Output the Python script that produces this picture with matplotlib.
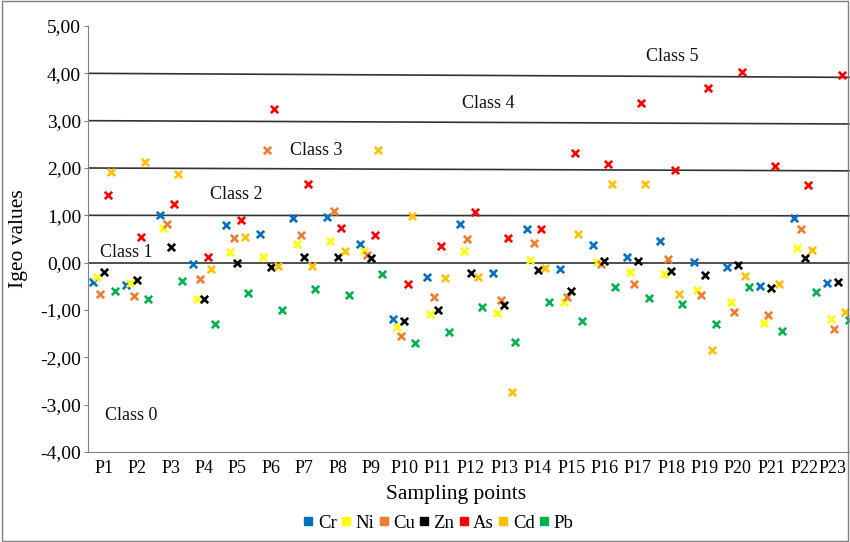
import matplotlib
matplotlib.use("Agg")
import matplotlib.pyplot as plt
import matplotlib.transforms as mtransforms
import numpy as np
from matplotlib.ticker import FuncFormatter, MultipleLocator
from matplotlib.lines import Line2D
from matplotlib.patches import Rectangle

plt.rcParams['font.family'] = ['Liberation Serif', 'DejaVu Serif']

points = [f"P{i}" for i in range(1, 24)]
series_names = ["Cr", "Ni", "Cu", "Zn", "As", "Cd", "Pb"]
series_colors = ["#0070C0", "#FFFF00", "#ED7D31", "#000000", "#FF0000", "#FFC000", "#00B050"]

Cr = [-0.40, -0.48, 1.01, -0.02, 0.80, 0.60, 0.95, 0.96, 0.39, -1.20, -0.30, 0.81,
      -0.21, 0.72, -0.14, 0.37, 0.12, 0.46, 0.01, -0.09, -0.49, 0.94, -0.44]
Ni = [-0.30, -0.43, 0.74, -0.76, 0.22, 0.12, 0.40, 0.46, 0.25, -1.35, -1.09, 0.25,
      -1.06, 0.05, -0.83, 0.01, -0.20, -0.23, -0.58, -0.84, -1.27, 0.32, -1.19]
Cu = [-0.66, -0.71, 0.82, -0.34, 0.52, 2.37, 0.58, 1.10, 0.17, -1.54, -0.73, 0.51,
      -0.79, 0.42, -0.72, -0.03, -0.45, 0.08, -0.68, -1.04, -1.11, 0.72, -1.41]
Zn = [-0.19, -0.36, 0.34, -0.77, -0.01, -0.10, 0.12, 0.11, 0.09, -1.24, -1.01, -0.21,
      -0.90, -0.15, -0.59, 0.04, 0.03, -0.17, -0.27, -0.05, -0.53, 0.10, -0.40]
As = [1.42, 0.54, 1.25, 0.11, 0.90, 3.25, 1.66, 0.74, 0.59, -0.45, 0.35, 1.07,
      0.53, 0.71, 2.32, 2.08, 3.37, 1.96, 3.68, 4.03, 2.04, 1.65, 3.97]
Cd = [1.91, 2.13, 1.87, -0.14, 0.54, -0.07, -0.07, 0.25, 2.38, 0.99, -0.33, -0.30,
      -2.73, -0.11, 0.60, 1.66, 1.66, -0.67, -1.84, -0.28, -0.46, 0.27, -1.04]
Pb = [-0.59, -0.77, -0.38, -1.29, -0.65, -1.00, -0.55, -0.69, -0.23, -1.70, -1.47, -0.94,
      -1.67, -0.83, -1.23, -0.52, -0.74, -0.87, -1.29, -0.52, -1.45, -0.63, -1.21]
series_values = [Cr, Ni, Cu, Zn, As, Cd, Pb]

class_labels = ["Class 0", "Class 1", "Class 2", "Class 3", "Class 4", "Class 5"]
class_label_pos = [(0.03, -3.22), (-0.12, 0.22), (3.18, 1.43), (5.57, 2.36), (10.73, 3.37), (16.24, 4.35)]
class_levels = [0, 1, 2, 3, 4]
class_levels_end = [0.0, 0.99, 1.94, 2.93, 3.915]

fig = plt.figure(figsize=(8.5, 5.42), dpi=100)
ax = fig.add_axes([88 / 850, 1 - 452 / 542, 1 - 88 / 850, (452 - 26) / 542])

xmin, xmax = -0.48, 22.36
x = np.arange(len(points))
step = 0.11
for k, (name, vals, col) in enumerate(zip(series_names, series_values, series_colors)):
    ax.scatter(x + (k - 3) * step, vals, marker='x', s=28, linewidths=1.9,
               color=col, zorder=3, clip_on=True)

for lv0, lv1 in zip(class_levels, class_levels_end):
    ax.plot([xmin, xmax], [lv0, lv1], color="#333333", lw=1.2, zorder=1)

for lab, (lx, ly) in zip(class_labels, class_label_pos):
    ax.text(lx, ly, lab, fontsize=13, ha='left', va='center', color='#111111')

ax.set_xlim(xmin, xmax)
ax.set_ylim(-4, 5)
ax.yaxis.set_major_locator(MultipleLocator(1))
ax.yaxis.set_major_formatter(FuncFormatter(lambda v, p: f"{v:.2f}".replace('.', ',').replace('−', '-')))
ax.set_xticks(x)
ax.set_xticklabels(points, fontsize=13)
ax.tick_params(axis='x', length=0, pad=6)
ax.tick_params(axis='y', length=3, direction='out', labelsize=14, color='#808080', pad=2)

# keep the last category label inside the figure edge
last = ax.get_xticklabels()[-1]
last.set_transform(last.get_transform() +
                   mtransforms.ScaledTranslation(-5 / 100, 0, fig.dpi_scale_trans))

for s in ['top', 'right']:
    ax.spines[s].set_visible(False)
ax.spines['left'].set_color('#808080')
ax.spines['bottom'].set_color('#808080')

ax.set_ylabel("Igeo values", fontsize=15.5)
ax.yaxis.set_label_coords((28 - 88) / 762, 0.5)
ax.set_xlabel("Sampling points", fontsize=15.5)
ax.xaxis.set_label_coords((456 - 88) / 762, (452 - 485) / 426)

handles = [Line2D([0], [0], marker='s', linestyle='none', markersize=6,
                  markerfacecolor=c, markeredgecolor=c) for c in series_colors]
fig.legend(handles, series_names, loc='center', bbox_to_anchor=(437.5 / 850, 1 - 523 / 542),
           ncol=7, frameon=False, fontsize=13.5, handletextpad=0.15, columnspacing=0.15,
           handlelength=0.7, borderpad=0.2)

fig.patches.append(Rectangle((0.002, 0.002), 0.996, 0.996, transform=fig.transFigure,
                             fill=False, edgecolor='#7f7f7f', lw=1))

fig.savefig("out.png", dpi=100)
